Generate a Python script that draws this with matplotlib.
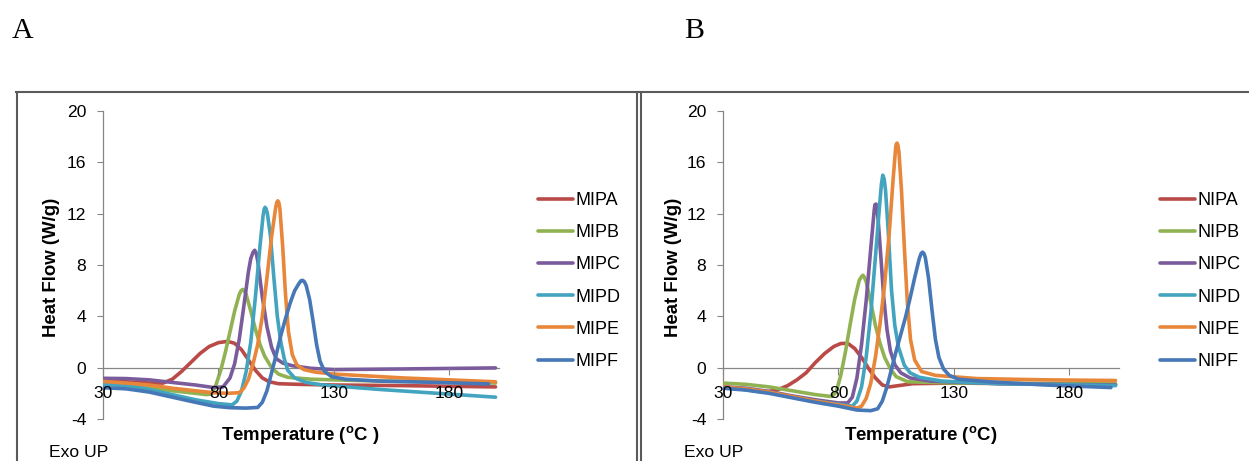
import numpy as np
import matplotlib
matplotlib.use('Agg')
import matplotlib.pyplot as plt
from matplotlib.lines import Line2D

plt.rcParams['font.family'] = ['Liberation Sans', 'DejaVu Sans']
plt.rcParams['mathtext.fontset'] = 'custom'
plt.rcParams['mathtext.rm'] = 'Liberation Sans'
plt.rcParams['mathtext.bf'] = 'Liberation Sans:bold'
plt.rcParams['axes.unicode_minus'] = False

# ---- data (temperature in C, heat flow in W/g) ----
names_a = ['MIPA', 'MIPB', 'MIPC', 'MIPD', 'MIPE', 'MIPF']
names_b = ['NIPA', 'NIPB', 'NIPC', 'NIPD', 'NIPE', 'NIPF']
colors = ['#B94A47', '#91B252', '#7A5C9D', '#43A4BF', '#E8863A', '#4677B6']

# panel A
mipa_t = [30, 40, 50, 56, 60, 64, 68, 72, 76, 80, 84, 87, 90, 93, 96, 99, 102, 106, 115, 130, 160, 200]
mipa_y = [-1.05, -1.1, -1.2, -1.2, -0.9, -0.3, 0.4, 1.1, 1.65, 1.95, 2.05, 1.9, 1.4, 0.6, -0.2, -0.8, -1.1, -1.25, -1.3, -1.35, -1.4, -1.5]
mipb_t = [30, 40, 50, 60, 70, 75, 77, 79, 81, 83, 85, 87, 89, 89.8, 90.5, 91.2, 92, 94, 96, 98, 100, 103, 106, 110, 120, 140, 170, 200]
mipb_y = [-1.25, -1.35, -1.55, -1.8, -2.0, -2.1, -2.05, -1.3, -0.2, 1.2, 2.8, 4.4, 5.7, 6.0, 6.1, 6.0, 5.7, 4.4, 3.0, 1.8, 0.9, 0.0, -0.5, -0.75, -0.9, -1.0, -1.1, -1.2]
mipc_t = [30, 40, 50, 60, 70, 78, 82, 85, 87, 89, 91, 93, 94, 95, 95.7, 96.4, 97.2, 98, 99, 101, 103, 105, 108, 112, 120, 130, 160, 200]
mipc_y = [-0.83, -0.85, -0.95, -1.15, -1.35, -1.55, -1.5, -0.8, 0.3, 2.2, 4.8, 7.5, 8.5, 9.0, 9.15, 8.9, 8.1, 6.9, 5.5, 3.2, 1.6, 0.7, 0.35, 0.15, -0.05, -0.15, -0.1, -0.02]
mipd_t = [30, 40, 50, 60, 70, 80, 86, 88, 90, 92, 94, 96, 98, 99.3, 99.8, 100.2, 100.7, 101.2, 102.5, 104, 105.5, 107, 108.5, 110, 113, 118, 125, 150, 175, 200]
mipd_y = [-1.3, -1.4, -1.7, -2.1, -2.5, -2.8, -2.9, -2.6, -1.8, -0.3, 2.0, 5.5, 9.5, 11.8, 12.35, 12.5, 12.35, 12.0, 10.3, 7.0, 4.0, 2.0, 0.7, -0.2, -0.8, -1.15, -1.35, -1.7, -2.0, -2.3]
mipe_t = [30, 40, 50, 60, 70, 78, 84, 89, 91, 93, 95, 97, 99, 101, 103, 104.8, 105.3, 105.7, 106.1, 106.6, 107.8, 109, 110.3, 112, 114, 117, 122, 130, 160, 200]
mipe_y = [-1.07, -1.2, -1.35, -1.6, -1.8, -1.95, -2.0, -1.95, -1.6, -0.9, 0.3, 1.8, 4.0, 7.0, 10.2, 12.5, 12.9, 13.0, 12.9, 12.4, 9.5, 5.8, 2.8, 1.0, 0.2, -0.15, -0.35, -0.5, -0.8, -1.1]
mipf_t = [30, 40, 50, 60, 70, 78, 85, 92, 97, 99, 101, 103, 105, 107, 109, 111, 113, 115, 115.8, 116.5, 117.2, 118, 119.5, 121, 122.5, 124, 126, 129, 135, 150, 175, 197]
mipf_y = [-1.56, -1.65, -1.9, -2.3, -2.7, -3.0, -3.12, -3.15, -3.1, -2.7, -1.8, -0.4, 1.0, 2.5, 3.8, 5.0, 6.0, 6.6, 6.78, 6.8, 6.7, 6.4, 5.3, 3.6, 1.8, 0.5, -0.3, -0.7, -0.9, -1.05, -1.15, -1.27]

# panel B
nipa_t = [30, 38, 45, 50, 54, 58, 62, 66, 70, 74, 78, 81, 84, 87, 90, 93, 96, 99, 102, 106, 112, 130, 160, 200]
nipa_y = [-1.5, -1.65, -1.85, -1.85, -1.7, -1.4, -0.95, -0.4, 0.4, 1.1, 1.65, 1.88, 1.9, 1.5, 0.8, -0.05, -0.8, -1.35, -1.5, -1.4, -1.25, -1.2, -1.25, -1.3]
nipb_t = [30, 40, 50, 60, 70, 77, 79, 81, 83, 85, 87, 89, 90, 90.6, 91.2, 92, 94, 96, 98, 100, 102.5, 105, 110, 130, 200]
nipb_y = [-1.2, -1.3, -1.5, -1.8, -2.1, -2.25, -1.9, -0.6, 1.2, 3.3, 5.3, 6.8, 7.1, 7.2, 7.05, 6.7, 5.1, 3.3, 1.9, 0.8, -0.1, -0.7, -1.1, -1.2, -1.25]
nipc_t = [30, 40, 50, 60, 70, 80, 84, 86, 88, 90, 92, 94, 95.5, 95.8, 96.3, 96.7, 97.2, 98.3, 99.6, 101, 102.5, 104.5, 107, 111, 120, 150, 200]
nipc_y = [-1.5, -1.6, -1.85, -2.2, -2.5, -2.75, -2.75, -2.3, -0.8, 1.8, 5.2, 9.3, 12.3, 12.7, 12.75, 12.4, 11.5, 8.8, 5.5, 3.0, 1.3, 0.2, -0.4, -0.8, -1.05, -1.25, -1.35]
nipd_t = [30, 40, 50, 60, 70, 80, 86, 88, 90, 92, 94, 96, 97.8, 98.6, 99.2, 99.8, 100.4, 101.6, 103, 104.4, 106, 108.5, 111, 115, 125, 150, 200]
nipd_y = [-1.55, -1.7, -1.95, -2.3, -2.6, -2.85, -3.0, -2.6, -1.5, 0.8, 4.2, 8.6, 12.6, 14.3, 15.0, 14.7, 13.8, 10.5, 6.0, 3.3, 1.6, 0.2, -0.4, -0.75, -1.05, -1.25, -1.4]
nipe_t = [30, 40, 50, 60, 70, 80, 88, 90, 92, 94, 96, 98, 100, 102, 103.6, 104.8, 105.1, 105.4, 105.8, 106.2, 107.3, 108.5, 109.8, 111.2, 113, 116, 122, 140, 170, 200]
nipe_y = [-1.5, -1.65, -1.9, -2.25, -2.6, -2.9, -3.15, -3.0, -2.4, -1.2, 0.8, 3.4, 6.5, 10.5, 14.5, 17.2, 17.45, 17.5, 17.3, 16.8, 13.8, 9.5, 5.2, 2.2, 0.6, -0.3, -0.6, -0.85, -0.95, -1.0]
nipf_t = [30, 40, 50, 60, 70, 80, 88, 94, 97, 99, 101, 103, 105, 107, 109, 111, 113, 115, 115.8, 116.4, 117, 117.6, 119, 120.5, 122, 123.5, 125.5, 128, 132, 145, 170, 198]
nipf_y = [-1.6, -1.75, -2.0, -2.35, -2.7, -3.0, -3.3, -3.35, -3.2, -2.6, -1.5, -0.1, 1.3, 2.6, 3.9, 5.4, 7.0, 8.5, 8.9, 9.0, 8.9, 8.6, 7.0, 4.5, 2.2, 0.8, -0.1, -0.6, -0.9, -1.1, -1.35, -1.55]

series_a = [(mipa_t, mipa_y), (mipb_t, mipb_y), (mipc_t, mipc_y),
            (mipd_t, mipd_y), (mipe_t, mipe_y), (mipf_t, mipf_y)]
series_b = [(nipa_t, nipa_y), (nipb_t, nipb_y), (nipc_t, nipc_y),
            (nipd_t, nipd_y), (nipe_t, nipe_y), (nipf_t, nipf_y)]

W, H = 1249, 461
fig = plt.figure(figsize=(W / 100, H / 100), dpi=100)
grey = '#868686'


def panel(left, series, names, xlabel, ylab_x, xlab_x, exo_x, leg_x):
    ax = fig.add_axes([left / W, 1 - 419 / H, 396 / W, 308 / H])
    for (t, y), c, n in zip(series, colors, names):
        ax.plot(t, y, color=c, lw=2.6, label=n,
                solid_capstyle='round', solid_joinstyle='round', zorder=2)
    ax.set_xlim(30, 201.5)
    ax.set_ylim(-4, 20)
    ax.set_xticks([30, 80, 130, 180])
    ax.set_yticks(range(-4, 21, 4))
    ax.set_axisbelow(False)
    for s in ['top', 'right']:
        ax.spines[s].set_visible(False)
    ax.spines['bottom'].set_position(('data', 0))
    for s in ['left', 'bottom']:
        ax.spines[s].set_color(grey)
        ax.spines[s].set_linewidth(0.9)
        ax.spines[s].set_zorder(1)
    ax.tick_params(axis='x', direction='out', length=5, width=0.8, color=grey,
                   pad=8.5, labelsize=12.6)
    ax.tick_params(axis='y', direction='out', length=4, width=0.8, color=grey,
                   pad=8, labelsize=12.6)
    ax.patch.set_visible(False)

    fig.text(ylab_x / W, 1 - 267 / H, 'Heat Flow (W/g)', rotation=90,
             fontsize=13.4, fontweight='bold', ha='center', va='center')
    fig.text(xlab_x / W, 1 - 436 / H, xlabel, fontsize=13.4,
             fontweight='bold', ha='center', va='center')
    fig.text(exo_x / W, 1 - 452 / H, 'Exo UP', fontsize=12.6,
             ha='left', va='center')
    ax.legend(loc='upper left', bbox_to_anchor=(leg_x / W, 1 - 192 / H),
              bbox_transform=fig.transFigure, frameon=False, fontsize=13,
              handlelength=1.95, handletextpad=0.12, labelspacing=0.84,
              borderpad=0, borderaxespad=0)
    return ax


panel(103, series_a, names_a, r'Temperature ($^{\mathbf{o}}$C )', 52, 300, 49, 538)
panel(723, series_b, names_b, r'Temperature ($^{\mathbf{o}}$C)', 674, 921, 684, 1160)

# panel letters
fig.text(12 / W, 1 - 38 / H, 'A', family='Liberation Serif', fontsize=21.5,
         ha='left', va='baseline')
fig.text(684 / W, 1 - 38 / H, 'B', family='Liberation Serif', fontsize=21.5,
         ha='left', va='baseline')

# frames around the two panels
frame = '#5a5a5a'
fig.add_artist(Line2D([16 / W, 1], [1 - 92 / H, 1 - 92 / H], color=frame, lw=1.5))
for xv in [16.5, 637, 641]:
    fig.add_artist(Line2D([xv / W, xv / W], [1 - 92 / H, 0], color=frame, lw=1.5))

fig.savefig('out.png', dpi=100)
